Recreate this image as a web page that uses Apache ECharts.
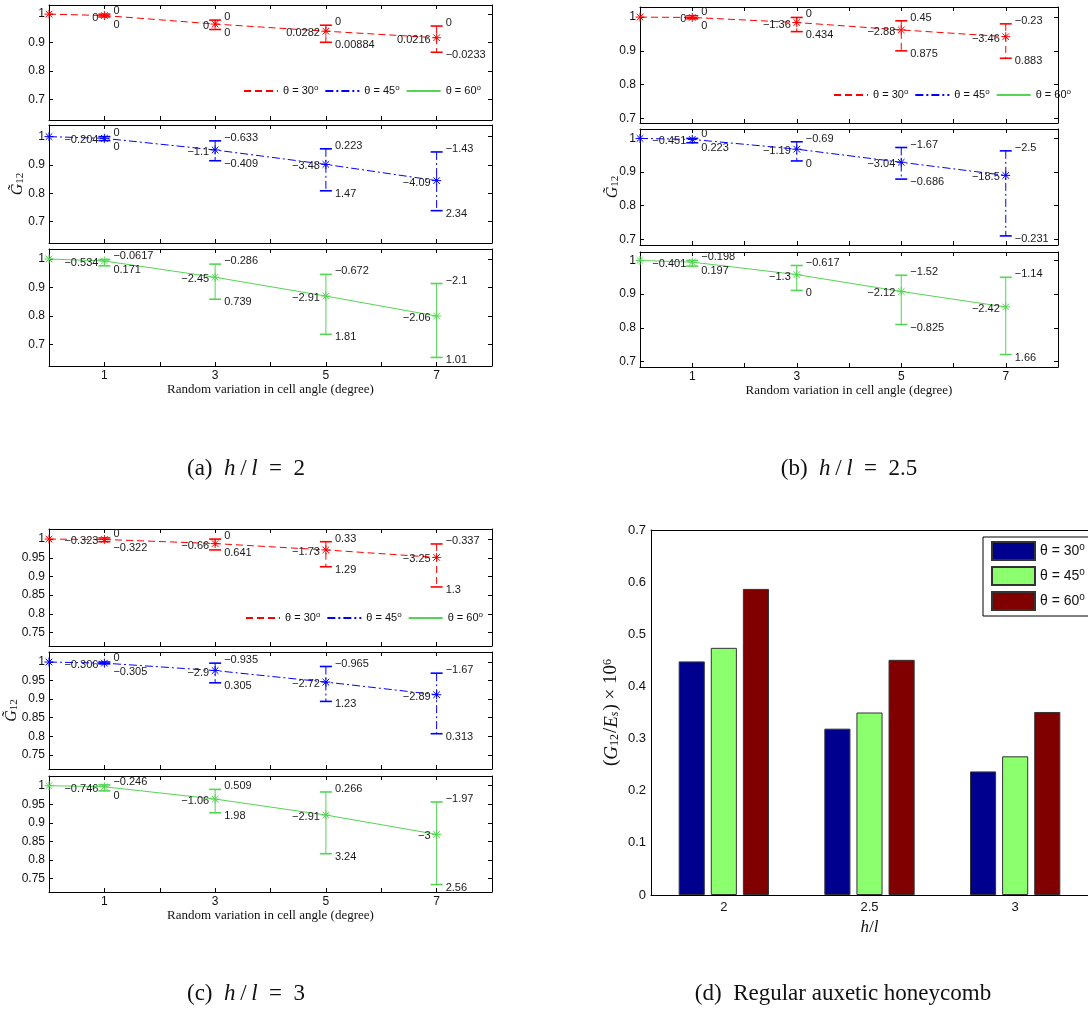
<!DOCTYPE html>
<html><head><meta charset="utf-8">
<script src="https://cdn.jsdelivr.net/npm/echarts@6/dist/echarts.min.js"></script>
<style>html,body{margin:0;padding:0;background:#fff}#c{width:1088px;height:1019px}</style>
</head><body><div id="c"></div>
<script>
// ---------- shared ticks / categories ----------
const xCells = [0, 1, 3, 5, 7];
const xTickLabels = [1, 3, 5, 7];
const yTicksA = [0.7, 0.8, 0.9, 1];
const yTicksB = [0.7, 0.8, 0.9, 1];
const yTicksC = [0.75, 0.8, 0.85, 0.9, 0.95, 1];
const xName = 'Random variation in cell angle (degree)';

// ---------- (a) h/l = 2 ----------
const a30Mean = [1, 0.995, 0.965, 0.940, 0.917];
const a30Up = [null, 1.0, 0.979, 0.961, 0.958];
const a30Lo = [null, 0.990, 0.946, 0.901, 0.866];
const a30MeanLbl = ['', '0', '0', '0.0282', '0.0216'];
const a30UpLbl = ['', '0', '0', '0', '0'];
const a30LoLbl = ['', '0', '0', '0.00884', '\u22120.0233'];

const a45Mean = [1, 0.994, 0.953, 0.902, 0.845];
const a45Up = [null, 1.0, 0.985, 0.957, 0.946];
const a45Lo = [null, 0.986, 0.915, 0.809, 0.739];
const a45MeanLbl = ['', '\u22120.204', '\u22121.1', '\u22123.48', '\u22124.09'];
const a45UpLbl = ['', '0', '\u22120.633', '0.223', '\u22121.43'];
const a45LoLbl = ['', '0', '\u22120.409', '1.47', '2.34'];

const a60Mean = [1, 0.993, 0.936, 0.870, 0.800];
const a60Up = [null, 0.998, 0.982, 0.946, 0.914];
const a60Lo = [null, 0.976, 0.859, 0.736, 0.655];
const a60MeanLbl = ['', '\u22120.534', '\u22122.45', '\u22122.91', '\u22122.06'];
const a60UpLbl = ['', '\u22120.0617', '\u22120.286', '\u22120.672', '\u22122.1'];
const a60LoLbl = ['', '0.171', '0.739', '1.81', '1.01'];

// ---------- (b) h/l = 2.5 ----------
const b30Mean = [1, 0.999, 0.984, 0.962, 0.942];
const b30Up = [null, 1.004, 0.999, 0.989, 0.980];
const b30Lo = [null, 0.995, 0.957, 0.900, 0.878];
const b30MeanLbl = ['', '0', '\u22121.36', '\u22122.88', '\u22123.46'];
const b30UpLbl = ['', '0', '0', '0.45', '\u22120.23'];
const b30LoLbl = ['', '0', '0.434', '0.875', '0.883'];

const b45Mean = [1, 0.997, 0.968, 0.929, 0.890];
const b45Up = [null, 1.0, 0.990, 0.973, 0.963];
const b45Lo = [null, 0.987, 0.933, 0.879, 0.710];
const b45MeanLbl = ['', '\u22120.451', '\u22121.19', '\u22123.04', '\u221218.5'];
const b45UpLbl = ['', '0', '\u22120.69', '\u22121.67', '\u22122.5'];
const b45LoLbl = ['', '0.223', '0', '\u22120.686', '\u22120.231'];

const b60Mean = [1, 0.995, 0.958, 0.908, 0.862];
const b60Up = [null, 1.0, 0.985, 0.956, 0.950];
const b60Lo = [null, 0.983, 0.911, 0.810, 0.721];
const b60MeanLbl = ['', '\u22120.401', '\u22121.3', '\u22122.12', '\u22122.42'];
const b60UpLbl = ['', '\u22120.198', '\u22120.617', '\u22121.52', '\u22121.14'];
const b60LoLbl = ['', '0.197', '0', '\u22120.825', '1.66'];

// ---------- (c) h/l = 3 ----------
const c30Mean = [1, 0.999, 0.988, 0.971, 0.951];
const c30Up = [null, 1.003, 1.0, 0.993, 0.987];
const c30Lo = [null, 0.993, 0.971, 0.926, 0.872];
const c30MeanLbl = ['', '\u22120.323', '\u22120.66', '\u22121.73', '\u22123.25'];
const c30UpLbl = ['', '0', '0', '0.33', '\u22120.337'];
const c30LoLbl = ['', '\u22120.322', '0.641', '1.29', '1.3'];

const c45Mean = [1, 0.997, 0.977, 0.946, 0.912];
const c45Up = [null, 1.0, 0.997, 0.988, 0.970];
const c45Lo = [null, 0.995, 0.944, 0.894, 0.807];
const c45MeanLbl = ['', '\u22120.306', '\u22122.9', '\u22122.72', '\u22122.89'];
const c45UpLbl = ['', '0', '\u22120.935', '\u22120.965', '\u22121.67'];
const c45LoLbl = ['', '\u22120.305', '0.305', '1.23', '0.313'];

const c60Mean = [1, 0.997, 0.964, 0.921, 0.869];
const c60Up = [null, 1.002, 0.990, 0.983, 0.956];
const c60Lo = [null, 0.986, 0.927, 0.817, 0.734];
const c60MeanLbl = ['', '\u22120.746', '\u22121.06', '\u22122.91', '\u22123'];
const c60UpLbl = ['', '\u22120.246', '0.509', '0.266', '\u22121.97'];
const c60LoLbl = ['', '0', '1.98', '3.24', '2.56'];

// ---------- (d) regular auxetic honeycomb ----------
const hlCats = ['2', '2.5', '3'];
const bar30 = [0.448, 0.319, 0.237];
const bar45 = [0.474, 0.350, 0.266];
const bar60 = [0.587, 0.451, 0.351];

// ---------- styles ----------
const S30 = { name: '\u03b8 = 30\u00b0', color: '#ff0000', dash: [7, 4] };
const S45 = { name: '\u03b8 = 45\u00b0', color: '#0000ff', dash: [8, 3, 2, 3] };
const S60 = { name: '\u03b8 = 60\u00b0', color: '#55d455', dash: 'solid' };
const SANS = '"Liberation Sans", Arial, sans-serif';
const SERIF = '"Liberation Serif", "Times New Roman", serif';

const subplots = [
  { g: { left: 49, top: 5, width: 443, height: 115 }, yMin: 0.628, yMax: 1.032, ticks: yTicksA, s: S30, mean: a30Mean, up: a30Up, lo: a30Lo, ml: a30MeanLbl, ul: a30UpLbl, ll: a30LoLbl, legend: [243, 84] },
  { g: { left: 49, top: 125, width: 443, height: 118 }, yMin: 0.625, yMax: 1.041, ticks: yTicksA, s: S45, mean: a45Mean, up: a45Up, lo: a45Lo, ml: a45MeanLbl, ul: a45UpLbl, ll: a45LoLbl, yName: 23 },
  { g: { left: 49, top: 249, width: 443, height: 117 }, yMin: 0.625, yMax: 1.035, ticks: yTicksA, s: S60, mean: a60Mean, up: a60Up, lo: a60Lo, ml: a60MeanLbl, ul: a60UpLbl, ll: a60LoLbl, bottom: true },
  { g: { left: 640, top: 7, width: 418, height: 116 }, yMin: 0.686, yMax: 1.030, ticks: yTicksB, s: S30, mean: b30Mean, up: b30Up, lo: b30Lo, ml: b30MeanLbl, ul: b30UpLbl, ll: b30LoLbl, legend: [833, 88] },
  { g: { left: 640, top: 129, width: 418, height: 116 }, yMin: 0.683, yMax: 1.028, ticks: yTicksB, s: S45, mean: b45Mean, up: b45Up, lo: b45Lo, ml: b45MeanLbl, ul: b45UpLbl, ll: b45LoLbl, yName: 19 },
  { g: { left: 640, top: 252, width: 418, height: 115 }, yMin: 0.684, yMax: 1.025, ticks: yTicksB, s: S60, mean: b60Mean, up: b60Up, lo: b60Lo, ml: b60MeanLbl, ul: b60UpLbl, ll: b60LoLbl, bottom: true },
  { g: { left: 49, top: 529, width: 443, height: 117 }, yMin: 0.714, yMax: 1.027, ticks: yTicksC, s: S30, mean: c30Mean, up: c30Up, lo: c30Lo, ml: c30MeanLbl, ul: c30UpLbl, ll: c30LoLbl, legend: [245, 611] },
  { g: { left: 49, top: 652, width: 443, height: 117 }, yMin: 0.712, yMax: 1.027, ticks: yTicksC, s: S45, mean: c45Mean, up: c45Up, lo: c45Lo, ml: c45MeanLbl, ul: c45UpLbl, ll: c45LoLbl, yName: 29 },
  { g: { left: 49, top: 776, width: 443, height: 116 }, yMin: 0.714, yMax: 1.026, ticks: yTicksC, s: S60, mean: c60Mean, up: c60Up, lo: c60Lo, ml: c60MeanLbl, ul: c60UpLbl, ll: c60LoLbl, bottom: true }
];

function errRender(sp) {
  return function (params, api) {
    const x = api.value(0), m = api.value(1), lo = api.value(2), up = api.value(3), i = api.value(4), has = api.value(5);
    const p = api.coord([x, m]);
    const col = sp.s.color;
    const L = (x1, y1, x2, y2, w, dash) => ({ type: 'line', shape: { x1, y1, x2, y2 }, style: { stroke: col, lineWidth: w || 1, lineDash: dash || null } });
    const T = (t, tx, ty, al) => ({ type: 'text', x: tx, y: ty, style: { text: t, fill: '#1a1a1a', font: '11px ' + SANS, align: al, verticalAlign: 'middle', textAlign: al, textVerticalAlign: 'middle' } });
    const ch = [];
    if (has === 1) {
      const pu = api.coord([x, up]), pl = api.coord([x, lo]);
      ch.push(L(p[0], pu[1], p[0], pl[1], 1, sp.s.dash === 'solid' ? null : sp.s.dash));
      ch.push(L(p[0] - 6, pu[1], p[0] + 6, pu[1], 1.6));
      ch.push(L(p[0] - 6, pl[1], p[0] + 6, pl[1], 1.6));
      ch.push(T(sp.ml[i], p[0] - 6, p[1] + 2, 'right'));
      ch.push(T(sp.ul[i], p[0] + 9, Math.min(pu[1] - 3, p[1] - 5), 'left'));
      ch.push(T(sp.ll[i], p[0] + 9, Math.max(pl[1] + 3, p[1] + 9), 'left'));
    }
    const r = 4.5, d = 3.3;
    ch.push(L(p[0] - r, p[1], p[0] + r, p[1]));
    ch.push(L(p[0], p[1] - r, p[0], p[1] + r));
    ch.push(L(p[0] - d, p[1] - d, p[0] + d, p[1] + d));
    ch.push(L(p[0] - d, p[1] + d, p[0] + d, p[1] - d));
    return { type: 'group', children: ch };
  };
}

const legendRich = {
  t: { fontSize: 11, fontFamily: SANS, color: '#111', lineHeight: 14 },
  s: { fontSize: 8, fontFamily: SANS, color: '#111', verticalAlign: 'top', lineHeight: 9 }
};
const legendRichBig = {
  t: { fontSize: 14, fontFamily: SANS, color: '#111', lineHeight: 18 },
  s: { fontSize: 10, fontFamily: SANS, color: '#111', verticalAlign: 'top', lineHeight: 11 }
};
const fmtLegend = n => '{t|' + n.replace(/^bar:/, '').replace('\u00b0', '') + '}{s|o}';
const fmtNum = v => String(+(+v).toFixed(2));

const grid = [], xAxis = [], yAxis = [], legend = [];
const lineSeries = [], customSeries = [];
subplots.forEach((sp, k) => {
  grid.push(Object.assign({ containLabel: false }, sp.g));
  const axLine = { show: true, onZero: false, lineStyle: { color: '#000', width: 1 } };
  const tick = { show: true, inside: true, length: 4, lineStyle: { color: '#000' } };
  xAxis.push({
    gridIndex: k, type: 'value', min: 0, max: 8, interval: 1, position: 'bottom',
    axisLine: axLine, axisTick: tick, splitLine: { show: false },
    axisLabel: sp.bottom ? { show: true, customValues: xTickLabels, fontSize: 12, fontFamily: SANS, color: '#111', margin: 4 } : { show: false },
    name: sp.bottom ? xName : '', nameLocation: 'middle', nameGap: 17,
    nameTextStyle: { fontFamily: SERIF, fontSize: 13, color: '#111' }
  });
  xAxis.push({
    gridIndex: k, type: 'value', min: 0, max: 8, interval: 1, position: 'top',
    axisLine: axLine, axisTick: tick, splitLine: { show: false }, axisLabel: { show: false }
  });
  const yBase = { gridIndex: k, type: 'value', min: sp.yMin, max: sp.yMax, splitLine: { show: false }, axisLine: axLine };
  yAxis.push(Object.assign({}, yBase, {
    position: 'left',
    axisTick: Object.assign({}, tick, { customValues: sp.ticks }),
    axisLabel: { show: true, customValues: sp.ticks, formatter: fmtNum, fontSize: 12, fontFamily: SANS, color: '#111', margin: 4 },
    name: sp.yName ? '{g|G\u0303}{s|12}' : '', nameLocation: 'middle', nameRotate: 90, nameGap: sp.yName || 0,
    nameMoveOverlap: false,
    nameTextStyle: { rich: { g: { fontFamily: SERIF, fontStyle: 'italic', fontSize: 16, color: '#111' }, s: { fontFamily: SERIF, fontSize: 11, color: '#111', verticalAlign: 'bottom', padding: [6, 0, 0, 0] } } }
  }));
  yAxis.push(Object.assign({}, yBase, {
    position: 'right',
    axisTick: Object.assign({}, tick, { customValues: sp.ticks }),
    axisLabel: { show: false }
  }));
  lineSeries.push({
    type: 'line', name: sp.s.name, xAxisIndex: 2 * k, yAxisIndex: 2 * k,
    data: xCells.map((x, i) => [x, sp.mean[i]]),
    showSymbol: false, symbol: 'none', color: sp.s.color,
    lineStyle: { color: sp.s.color, width: 1, type: sp.s.dash }, z: 2, silent: true
  });
  customSeries.push({
    type: 'custom', name: 'err' + k, xAxisIndex: 2 * k, yAxisIndex: 2 * k, clip: false, silent: true, z: 3,
    renderItem: errRender(sp), encode: { x: 0, y: 1 },
    data: xCells.map((x, i) => [x, sp.mean[i], sp.lo[i] == null ? sp.mean[i] : sp.lo[i], sp.up[i] == null ? sp.mean[i] : sp.up[i], i, sp.lo[i] == null ? 0 : 1])
  });
  if (sp.legend) {
    legend.push({
      left: sp.legend[0], top: sp.legend[1], orient: 'horizontal', padding: 0,
      itemWidth: 34, itemHeight: 10, itemGap: 6, selectedMode: false,
      itemStyle: { opacity: 0 },
      data: [S30.name, S45.name, S60.name], formatter: fmtLegend,
      textStyle: { rich: legendRich }
    });
  }
});

// bar chart (d)
const bk = subplots.length;
grid.push({ left: 651, top: 530, width: 444, height: 365 });
const bAxLine = { show: true, onZero: false, lineStyle: { color: '#000', width: 1 } };
xAxis.push({
  gridIndex: bk, type: 'category', data: hlCats, position: 'bottom',
  axisLine: bAxLine, axisTick: { inside: true, alignWithLabel: true, length: 4, lineStyle: { color: '#000' } },
  axisLabel: { fontSize: 13, fontFamily: SANS, color: '#111', margin: 6 },
  name: '{i|h}{r|/}{i|l}', nameLocation: 'middle', nameGap: 24,
  nameTextStyle: { rich: { i: { fontFamily: SERIF, fontStyle: 'italic', fontSize: 17, color: '#111' }, r: { fontFamily: SERIF, fontSize: 17, color: '#111' } } }
});
xAxis.push({
  gridIndex: bk, type: 'category', data: hlCats, position: 'top',
  axisLine: bAxLine, axisTick: { inside: true, alignWithLabel: true, length: 4, lineStyle: { color: '#000' } },
  axisLabel: { show: false }
});
yAxis.push({
  gridIndex: bk, type: 'value', min: 0, max: 0.7, interval: 0.1, position: 'left',
  axisLine: bAxLine, axisTick: { inside: true, length: 4, lineStyle: { color: '#000' } },
  splitLine: { show: false },
  axisLabel: { fontSize: 13, fontFamily: SANS, color: '#111', margin: 5, formatter: fmtNum },
  name: '{r|(}{i|G}{s|12}{r|/}{i|E}{si|s}{r|) \u00d7 10}{p|6}', nameLocation: 'middle', nameRotate: 90, nameGap: 30,
  nameTextStyle: { rich: {
    r: { fontFamily: SERIF, fontSize: 19, color: '#111' },
    i: { fontFamily: SERIF, fontStyle: 'italic', fontSize: 19, color: '#111' },
    s: { fontFamily: SERIF, fontSize: 12, color: '#111', verticalAlign: 'bottom', padding: [7, 1, 0, 0] },
    si: { fontFamily: SERIF, fontStyle: 'italic', fontSize: 12, color: '#111', verticalAlign: 'bottom', padding: [7, 1, 0, 0] },
    p: { fontFamily: SERIF, fontSize: 12, color: '#111', verticalAlign: 'top' }
  } }
});
yAxis.push({
  gridIndex: bk, type: 'value', min: 0, max: 0.7, interval: 0.1, position: 'right',
  axisLine: bAxLine, axisTick: { inside: true, length: 4 }, splitLine: { show: false }, axisLabel: { show: false }
});
const barDefs = [[S30.name, bar30, '#00008f'], [S45.name, bar45, '#8cff6e'], [S60.name, bar60, '#800000']];
const barSeries = barDefs.map(([n, vals, col]) => ({
  type: 'bar', name: 'bar:' + n, xAxisIndex: 2 * bk, yAxisIndex: 2 * bk, data: vals,
  barCategoryGap: '38%', barGap: '23%', silent: true,
  itemStyle: { color: col, borderColor: '#333', borderWidth: 1 }
}));
legend.push({
  left: 983, top: 537, orient: 'vertical', itemWidth: 43, itemHeight: 18, itemGap: 5, icon: 'rect',
  padding: [4, 12, 5, 8], borderColor: '#000', borderWidth: 1, backgroundColor: '#fff',
  selectedMode: false, data: barDefs.map(d => 'bar:' + d[0]), formatter: fmtLegend,
  textStyle: { rich: legendRichBig }
});

const capRich = {
  r: { fontFamily: SERIF, fontSize: 23, fill: '#111', color: '#111' },
  i: { fontFamily: SERIF, fontStyle: 'italic', fontSize: 23, fill: '#111', color: '#111' }
};
function caption(x, y, text) {
  return { type: 'text', x: x, y: y, style: { text: text, rich: capRich, align: 'center', verticalAlign: 'middle', textAlign: 'center', textVerticalAlign: 'middle', fill: '#111', font: '23px ' + SERIF } };
}

const chart = echarts.init(document.getElementById('c'), null, { renderer: 'canvas' });
chart.setOption({
  backgroundColor: '#fff',
  animation: false,
  grid, xAxis, yAxis, legend,
  series: lineSeries.concat(customSeries, barSeries),
  graphic: [
    caption(246, 469, '{r|(a)  }{i|h}{r|\u2009/\u2009}{i|l}{r|  =  2}'),
    caption(849, 469, '{r|(b)  }{i|h}{r|\u2009/\u2009}{i|l}{r|  =  2.5}'),
    caption(246, 994, '{r|(c)  }{i|h}{r|\u2009/\u2009}{i|l}{r|  =  3}'),
    caption(843, 994, '{r|(d)  Regular auxetic honeycomb}')
  ]
});
</script></body></html>
